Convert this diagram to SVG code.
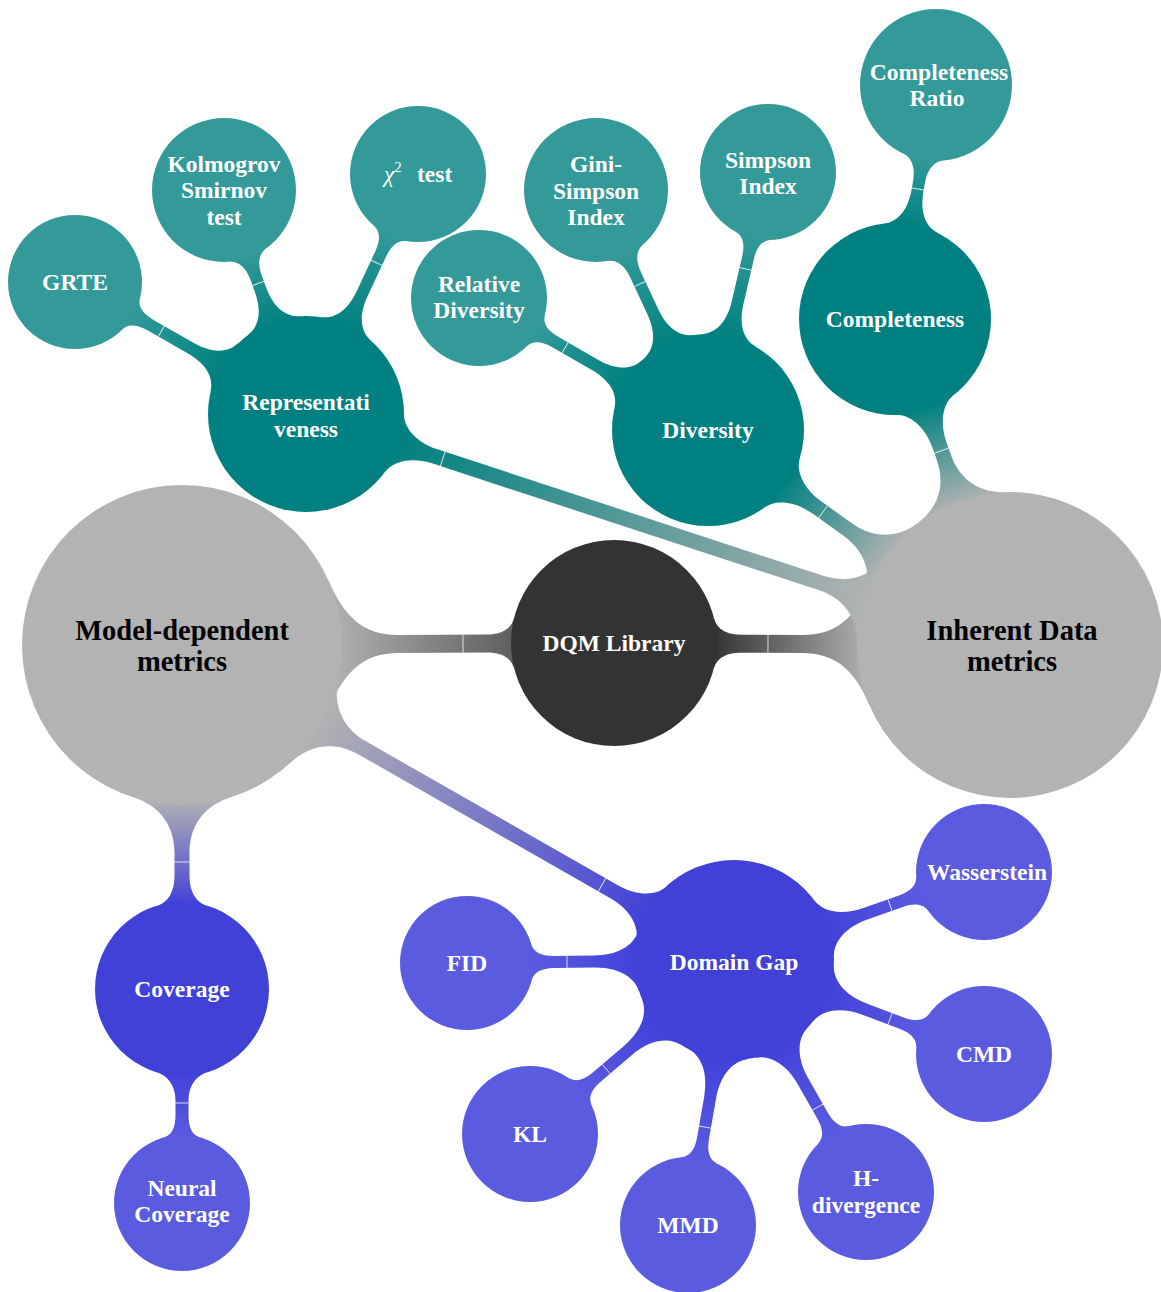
<svg xmlns="http://www.w3.org/2000/svg" width="1161" height="1292" viewBox="0 0 1161 1292">
<defs>
<style>
.root{fill:#333333}.gray{fill:#b3b3b3}.t1{fill:#008080}.t2{fill:#339999}.b1{fill:#4141d8}.b2{fill:#5b5be0}
.lbl{font-family:"Liberation Serif","Times New Roman",serif;font-weight:bold;font-size:23.5px;fill:#ffffff;text-anchor:middle}
.big{font-size:28.5px;fill:#000000}
.seam{stroke:#ffffff;stroke-width:0.9;stroke-opacity:0.85}
</style>
<linearGradient id="gRootL" x1="0" y1="0" x2="1" y2="0"><stop offset="0" stop-color="#5e5e5e"/><stop offset="1" stop-color="#b3b3b3"/></linearGradient>
<linearGradient id="gRootR" x1="0" y1="0" x2="1" y2="0"><stop offset="0" stop-color="#333333"/><stop offset="1" stop-color="#b3b3b3"/></linearGradient>
<linearGradient id="gGrayTeal" x1="0" y1="0" x2="1" y2="0"><stop offset="0" stop-color="#b3b3b3"/><stop offset="1" stop-color="#008080"/></linearGradient>
<linearGradient id="gTeal" x1="0" y1="0" x2="1" y2="0"><stop offset="0" stop-color="#008080"/><stop offset="1" stop-color="#339999"/></linearGradient>
<linearGradient id="gGrayBlue" x1="0" y1="0" x2="1" y2="0"><stop offset="0" stop-color="#b3b3b3"/><stop offset="1" stop-color="#4141d8"/></linearGradient>
<linearGradient id="gBlue" x1="0" y1="0" x2="1" y2="0"><stop offset="0" stop-color="#4141d8"/><stop offset="1" stop-color="#5b5be0"/></linearGradient>
</defs>

<g id="connectors">
  <g transform="translate(614,643) rotate(179.73)">
    <path fill="url(#gRootL)" d="M99.7,-26 C103.2,-12.4 115,-9 127,-9 L216,-9 C251,-9 269.4,-27.4 285.4,-64 L285.4,64 C269.4,27.4 251,9 216,9 L127,9 C115,9 103.2,12.4 99.7,26 Z"/>
    <line class="seam" x1="151" y1="-9" x2="151" y2="9"/>
  </g>
  <g transform="translate(614,643) rotate(0.29)">
    <path fill="url(#gRootR)" d="M99.7,-26 C103.2,-12.4 115,-9 127,-9 L188,-9 C221,-9 240.4,-25 255.3,-60 L255.3,60 C240.4,25 221,9 188,9 L127,9 C115,9 103.2,12.4 99.7,26 Z"/>
    <line class="seam" x1="154" y1="-9" x2="154" y2="9"/>
  </g>
  <g transform="translate(1010,645) rotate(198.16)">
    <path fill="url(#gGrayTeal)" d="M145.9,-46 C152.8,-24.1 170,-7.5 199,-7.5 L604.9,-7.5 C628.9,-7.5 643.9,-18.6 647.6,-30 L647.6,30 C643.9,18.6 628.9,7.5 604.9,7.5 L199,7.5 C170,7.5 152.8,24.1 145.9,46 Z"/>
    <line class="seam" x1="597" y1="-7.5" x2="597" y2="7.5"/>
  </g>
  <g transform="translate(1010,645) rotate(215.45)">
    <path fill="url(#gGrayTeal)" d="M145.9,-46 C152.8,-24.1 170,-7.5 199,-7.5 L236.7,-7.5 C260.7,-7.5 275.8,-18.6 279.5,-30 L279.5,30 C275.8,18.6 260.7,7.5 236.7,7.5 L199,7.5 C170,7.5 152.8,24.1 145.9,46 Z"/>
    <line class="seam" x1="229.5" y1="-7.5" x2="229.5" y2="7.5"/>
  </g>
  <g transform="translate(1010,645) rotate(250.57)">
    <path fill="url(#gGrayTeal)" d="M145.9,-46 C152.8,-24.1 170,-7.5 199,-7.5 L211.7,-7.5 C235.7,-7.5 250.8,-18.6 254.5,-30 L254.5,30 C250.8,18.6 235.7,7.5 211.7,7.5 L199,7.5 C170,7.5 152.8,24.1 145.9,46 Z"/>
    <line class="seam" x1="206" y1="-7.5" x2="206" y2="7.5"/>
  </g>
  <g transform="translate(306,414) rotate(209.74)">
    <path fill="url(#gTeal)" d="M93.9,-28 C97.3,-16.5 108,-6 133,-6 L179.1,-6 C192.1,-6 199.5,-10.3 201.6,-18 L201.6,18 C199.5,10.3 192.1,6 179.1,6 L133,6 C108,6 97.3,16.5 93.9,28 Z"/>
    <line class="seam" x1="166.7" y1="-6" x2="166.7" y2="6"/>
  </g>
  <g transform="translate(306,414) rotate(249.9)">
    <path fill="url(#gTeal)" d="M93.9,-28 C97.3,-16.5 108,-6 133,-6 L145.5,-6 C158.5,-6 167,-11.3 169.1,-19 L169.1,19 C167,11.3 158.5,6 145.5,6 L133,6 C108,6 97.3,16.5 93.9,28 Z"/>
    <line class="seam" x1="139" y1="-6" x2="139" y2="6"/>
  </g>
  <g transform="translate(306,414) rotate(-64.98)">
    <path fill="url(#gTeal)" d="M93.9,-28 C97.3,-16.5 108,-6 133,-6 L176.8,-6 C189.8,-6 197.1,-10.3 199.2,-18 L199.2,18 C197.1,10.3 189.8,6 176.8,6 L133,6 C108,6 97.3,16.5 93.9,28 Z"/>
    <line class="seam" x1="166.9" y1="-6" x2="166.9" y2="6"/>
  </g>
  <g transform="translate(708,430) rotate(209.96)">
    <path fill="url(#gTeal)" d="M91.8,-28 C95.3,-16.5 106,-6 131,-6 L176.3,-6 C189.3,-6 196.6,-10.3 198.7,-18 L198.7,18 C196.6,10.3 189.3,6 176.3,6 L131,6 C106,6 95.3,16.5 91.8,28 Z"/>
    <line class="seam" x1="164.9" y1="-6" x2="164.9" y2="6"/>
  </g>
  <g transform="translate(708,430) rotate(244.98)">
    <path fill="url(#gTeal)" d="M91.8,-28 C95.3,-16.5 106,-6 131,-6 L171.8,-6 C184.8,-6 193.3,-11.3 195.4,-19 L195.4,19 C193.3,11.3 184.8,6 171.8,6 L131,6 C106,6 95.3,16.5 91.8,28 Z"/>
    <line class="seam" x1="161.1" y1="-6" x2="161.1" y2="6"/>
  </g>
  <g transform="translate(708,430) rotate(-76.91)">
    <path fill="url(#gTeal)" d="M91.8,-28 C95.3,-16.5 106,-6 131,-6 L176.9,-6 C189.9,-6 197.2,-10.3 199.3,-18 L199.3,18 C197.2,10.3 189.9,6 176.9,6 L131,6 C106,6 95.3,16.5 91.8,28 Z"/>
    <line class="seam" x1="165.4" y1="-6" x2="165.4" y2="6"/>
  </g>
  <g transform="translate(895,319) rotate(-80.06)">
    <path fill="url(#gTeal)" d="M91.8,-28 C95.3,-16.5 106,-6 131,-6 L139.6,-6 C153.6,-6 162.2,-12.3 164.3,-20 L164.3,20 C162.2,12.3 153.6,6 139.6,6 L131,6 C106,6 95.3,16.5 91.8,28 Z"/>
    <line class="seam" x1="132" y1="-6.5" x2="132" y2="6.5"/>
  </g>
  <g transform="translate(182,645) rotate(90)">
    <path fill="url(#gGrayBlue)" d="M152.6,-48 C159.8,-25.1 178,-7.5 208,-7.5 L231,-7.5 C247,-7.5 257.6,-14.4 260.4,-24 L260.4,24 C257.6,14.4 247,7.5 231,7.5 L208,7.5 C178,7.5 159.8,25.1 152.6,48 Z"/>
    <line class="seam" x1="217" y1="-7.5" x2="217" y2="7.5"/>
  </g>
  <g transform="translate(182,645) rotate(29.72)">
    <path fill="url(#gGrayBlue)" d="M152.6,-48 C159.8,-25.1 178,-7.5 208,-7.5 L497.6,-7.5 C521.6,-7.5 536.6,-18.6 540.2,-30 L540.2,30 C536.6,18.6 521.6,7.5 497.6,7.5 L208,7.5 C178,7.5 159.8,25.1 152.6,48 Z"/>
    <line class="seam" x1="483.7" y1="-7.5" x2="483.7" y2="7.5"/>
  </g>
  <g transform="translate(182,989) rotate(90)">
    <path fill="url(#gBlue)" d="M83.3,-25 C86.2,-15.4 96,-6.5 111,-6.5 L126,-6.5 C139,-6.5 146.3,-10.3 148.4,-18 L148.4,18 C146.3,10.3 139,6.5 126,6.5 L111,6.5 C96,6.5 86.2,15.4 83.3,25 Z"/>
    <line class="seam" x1="114" y1="-6.5" x2="114" y2="6.5"/>
  </g>
  <g transform="translate(734,960) rotate(179.36)">
    <path fill="url(#gBlue)" d="M95.4,-30 C99,-18.6 112,-6 140,-6 L180,-6 C193,-6 200.4,-10.3 202.5,-18 L202.5,18 C200.4,10.3 193,6 180,6 L140,6 C112,6 99,18.6 95.4,30 Z"/>
    <line class="seam" x1="167" y1="-6" x2="167" y2="6"/>
  </g>
  <g transform="translate(734,960) rotate(139.54)">
    <path fill="url(#gBlue)" d="M95.4,-30 C99,-18.6 112,-6 140,-6 L180.1,-6 C193.1,-6 200.4,-10.3 202.5,-18 L202.5,18 C200.4,10.3 193.1,6 180.1,6 L140,6 C112,6 99,18.6 95.4,30 Z"/>
    <line class="seam" x1="168" y1="-6" x2="168" y2="6"/>
  </g>
  <g transform="translate(734,960) rotate(99.85)">
    <path fill="url(#gBlue)" d="M95.4,-30 C99,-18.6 112,-6 140,-6 L181,-6 C194,-6 201.3,-10.3 203.4,-18 L203.4,18 C201.3,10.3 194,6 181,6 L140,6 C112,6 99,18.6 95.4,30 Z"/>
    <line class="seam" x1="169.6" y1="-6" x2="169.6" y2="6"/>
  </g>
  <g transform="translate(734,960) rotate(60.36)">
    <path fill="url(#gBlue)" d="M95.4,-30 C99,-18.6 112,-6 140,-6 L178.9,-6 C191.9,-6 199.2,-10.3 201.3,-18 L201.3,18 C199.2,10.3 191.9,6 178.9,6 L140,6 C112,6 99,18.6 95.4,30 Z"/>
    <line class="seam" x1="169.3" y1="-6" x2="169.3" y2="6"/>
  </g>
  <g transform="translate(734,960) rotate(20.61)">
    <path fill="url(#gBlue)" d="M95.4,-30 C99,-18.6 112,-6 140,-6 L179.1,-6 C192.1,-6 199.4,-10.3 201.5,-18 L201.5,18 C199.4,10.3 192.1,6 179.1,6 L140,6 C112,6 99,18.6 95.4,30 Z"/>
    <line class="seam" x1="166.8" y1="-6" x2="166.8" y2="6"/>
  </g>
  <g transform="translate(734,960) rotate(-19.39)">
    <path fill="url(#gBlue)" d="M95.4,-30 C99,-18.6 112,-6 140,-6 L177,-6 C190,-6 197.3,-10.3 199.4,-18 L199.4,18 C197.3,10.3 190,6 177,6 L140,6 C112,6 99,18.6 95.4,30 Z"/>
    <line class="seam" x1="165.4" y1="-6" x2="165.4" y2="6"/>
  </g>
</g>

<g id="dqm-library"><circle class="root" cx="614" cy="643" r="103"/><text class="lbl" x="614" y="651">DQM Library</text></g>
<g id="model-dependent"><circle class="gray" cx="182" cy="645" r="160"/><text class="lbl big" x="182" y="640">Model-dependent</text><text class="lbl big" x="182" y="671">metrics</text></g>
<g id="inherent-data"><circle class="gray" cx="1010" cy="645" r="153"/><text class="lbl big" x="1012" y="640">Inherent Data</text><text class="lbl big" x="1012" y="671">metrics</text></g>

<g id="representativeness"><circle class="t1" cx="306" cy="414" r="98"/><text class="lbl" x="306" y="410">Representati</text><text class="lbl" x="306" y="437">veness</text></g>
<g id="diversity"><circle class="t1" cx="708" cy="430" r="96"/><text class="lbl" x="708" y="438">Diversity</text></g>
<g id="completeness"><circle class="t1" cx="895" cy="319" r="96"/><text class="lbl" x="895" y="327">Completeness</text></g>

<g id="grte"><circle class="t2" cx="75" cy="282" r="67"/><text class="lbl" x="75" y="290">GRTE</text></g>
<g id="ks-test"><circle class="t2" cx="224" cy="190" r="72"/><text class="lbl" x="224" y="172">Kolmogrov</text><text class="lbl" x="224" y="198">Smirnov</text><text class="lbl" x="224" y="225">test</text></g>
<g id="chi2-test"><circle class="t2" cx="418" cy="174" r="68"/><text class="lbl" x="384" y="182" style="text-anchor:start"><tspan font-style="italic" font-weight="normal">χ</tspan><tspan dy="-10" font-size="15" font-weight="normal">2</tspan><tspan dy="10" x="417">test</tspan></text></g>
<g id="relative-diversity"><circle class="t2" cx="479" cy="298" r="68"/><text class="lbl" x="479" y="292">Relative</text><text class="lbl" x="479" y="318">Diversity</text></g>
<g id="gini-simpson"><circle class="t2" cx="596" cy="190" r="72"/><text class="lbl" x="596" y="172">Gini-</text><text class="lbl" x="596" y="199">Simpson</text><text class="lbl" x="596" y="225">Index</text></g>
<g id="simpson-index"><circle class="t2" cx="768" cy="172" r="68"/><text class="lbl" x="768" y="168">Simpson</text><text class="lbl" x="768" y="194">Index</text></g>
<g id="completeness-ratio"><circle class="t2" cx="936" cy="85" r="76"/><text class="lbl" x="939" y="80">Completeness</text><text class="lbl" x="937" y="106">Ratio</text></g>

<g id="coverage"><circle class="b1" cx="182" cy="989" r="87"/><text class="lbl" x="182" y="997">Coverage</text></g>
<g id="domain-gap"><circle class="b1" cx="734" cy="960" r="100"/><text class="lbl" x="734" y="970">Domain Gap</text></g>

<g id="neural-coverage"><circle class="b2" cx="182" cy="1203" r="68"/><text class="lbl" x="182" y="1196">Neural</text><text class="lbl" x="182" y="1222">Coverage</text></g>
<g id="fid"><circle class="b2" cx="467" cy="963" r="67"/><text class="lbl" x="467" y="971">FID</text></g>
<g id="kl"><circle class="b2" cx="530" cy="1134" r="68"/><text class="lbl" x="530" y="1142">KL</text></g>
<g id="mmd"><circle class="b2" cx="688" cy="1225" r="68"/><text class="lbl" x="688" y="1233">MMD</text></g>
<g id="h-divergence"><circle class="b2" cx="866" cy="1192" r="68"/><text class="lbl" x="866" y="1186">H-</text><text class="lbl" x="866" y="1213">divergence</text></g>
<g id="cmd"><circle class="b2" cx="984" cy="1054" r="68"/><text class="lbl" x="984" y="1062">CMD</text></g>
<g id="wasserstein"><circle class="b2" cx="984" cy="872" r="68"/><text class="lbl" x="987" y="880">Wasserstein</text></g>
</svg>
